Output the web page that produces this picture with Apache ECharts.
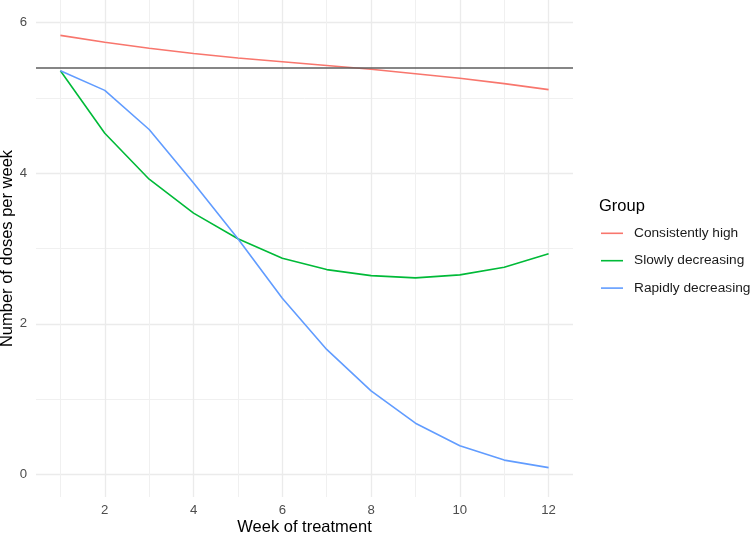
<!DOCTYPE html>
<html>
<head>
<meta charset="utf-8">
<script src="https://cdn.jsdelivr.net/npm/echarts@6/dist/echarts.min.js"></script>
<style>html,body{margin:0;padding:0;background:#fff}#chart{width:751px;height:535px}</style>
</head>
<body>
<div id="chart"></div>
<script>
const weeks = [1,2,3,4,5,6,7,8,9,10,11,12];
const seriesNames = ['Consistently high','Slowly decreasing','Rapidly decreasing'];
const consistentlyHigh = [5.83,5.74,5.66,5.59,5.53,5.48,5.43,5.38,5.32,5.26,5.19,5.11];
const slowlyDecreasing = [5.36,4.53,3.92,3.47,3.13,2.87,2.72,2.64,2.61,2.65,2.75,2.93];
const rapidlyDecreasing = [5.36,5.10,4.58,3.87,3.13,2.34,1.66,1.11,0.68,0.38,0.19,0.09];
const referenceLevel = 5.4;
const colors = ['#F8766D','#00BA38','#619CFF'];
const FONT = '"Liberation Sans", Arial, Helvetica, sans-serif';

const values = [consistentlyHigh, slowlyDecreasing, rapidlyDecreasing];
const chart = echarts.init(document.getElementById('chart'), null, {renderer:'canvas'});
const series = seriesNames.map((n,i)=>({
  name:n, type:'line', symbol:'none', smooth:false,
  data: weeks.map((w,j)=>[w, values[i][j]]),
  lineStyle:{color:colors[i], width:1.6},
  itemStyle:{color:colors[i]},
  z: 3
}));
series.push({
  type:'line', data:[], symbol:'none', silent:true,
  markLine:{symbol:'none', silent:true, label:{show:false},
    lineStyle:{color:'#5e5e5e', width:1.6, type:'solid'},
    data:[{yAxis:referenceLevel}]},
  z: 4
});
chart.setOption({
  animation:false,
  backgroundColor:'#fff',
  title:{text:'Group', left:599, top:198, padding:0, textStyle:{fontFamily:FONT, fontSize:16.5, fontWeight:'normal', color:'#000'}},
  legend:{
    orient:'vertical', left:601, top:226.3, padding:0, itemWidth:22, itemHeight:14, itemGap:13.4,
    icon:'path://M0,0 L22,0 L22,1.6 L0,1.6 Z',
    data:seriesNames.map((n,i)=>({name:n, itemStyle:{color:colors[i]}})),
    textStyle:{fontFamily:FONT, fontSize:13.7, color:'#1a1a1a', padding:[0,0,0,6]}
  },
  grid:{left:36, right:178, top:0, bottom:38, containLabel:false, outerBoundsMode:'none'},
  xAxis:{
    type:'value', min:0.45, max:12.55, splitNumber:6,
    name:'Week of treatment', nameLocation:'middle', nameGap:22, nameMoveOverlap:false,
    nameTextStyle:{fontFamily:FONT, fontSize:16.5, color:'#000'},
    axisLine:{show:false}, axisTick:{show:false},
    axisLabel:{fontFamily:FONT, fontSize:13.2, color:'#4D4D4D', margin:7, showMinLabel:false, showMaxLabel:false},
    splitLine:{show:true, showMinLine:false, showMaxLine:false, lineStyle:{color:'#EBEBEB', width:1.3}},
    minorTick:{show:false, splitNumber:2},
    minorSplitLine:{show:true, lineStyle:{color:'#F0F0F0', width:1}}
  },
  yAxis:{
    type:'value', min:-0.3, max:6.3, splitNumber:3,
    name:'Number of doses per week', nameLocation:'middle', nameGap:20, nameMoveOverlap:false,
    nameTextStyle:{fontFamily:FONT, fontSize:16.5, color:'#000'},
    axisLine:{show:false}, axisTick:{show:false},
    axisLabel:{fontFamily:FONT, fontSize:13.2, color:'#4D4D4D', margin:9, showMinLabel:false, showMaxLabel:false},
    splitLine:{show:true, showMinLine:false, showMaxLine:false, lineStyle:{color:'#EBEBEB', width:1.3}},
    minorTick:{show:false, splitNumber:2},
    minorSplitLine:{show:true, lineStyle:{color:'#F0F0F0', width:1}}
  },
  series: series
});
</script>
</body>
</html>
